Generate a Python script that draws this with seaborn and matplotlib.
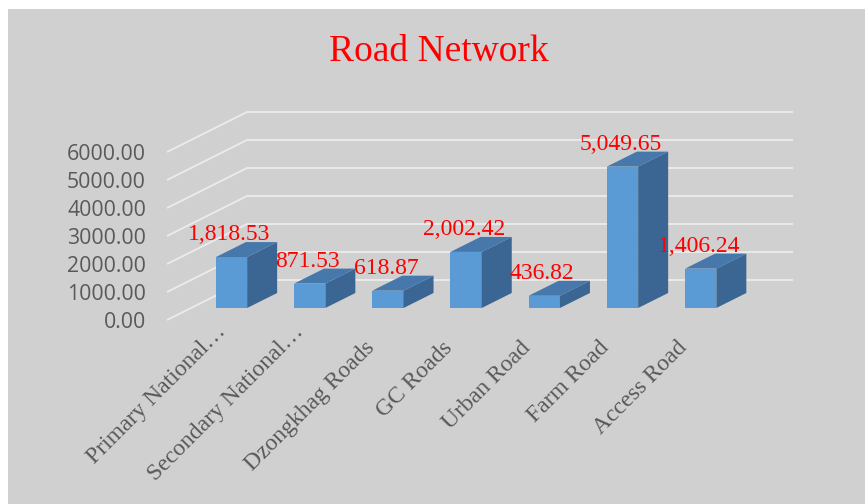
import matplotlib
matplotlib.use("Agg")
import matplotlib.pyplot as plt
from matplotlib.patches import Polygon, Rectangle
import seaborn as sns
import pandas as pd

categories = ['Primary National…', 'Secondary National…', 'Dzongkhag Roads', 'GC Roads',
              'Urban Road', 'Farm Road', 'Access Road']
lengths = [1818.53, 871.53, 618.87, 2002.42, 436.82, 5049.65, 1406.24]
y_ticks = [0, 1000, 2000, 3000, 4000, 5000, 6000]
title = 'Road Network'

df = pd.DataFrame({'road': categories, 'km': lengths})

W, H, DPI = 865, 504, 100
bg = '#d1d0d0'
front_c, side_c, top_c = '#5b9bd5', '#3b6592', '#4778ac'
grey = '#595959'

fig = plt.figure(figsize=(W / DPI, H / DPI), dpi=DPI, facecolor='white')
fig.patches.append(Rectangle((8 / W, 0), 1, 1 - 9 / H, transform=fig.transFigure,
                             facecolor=bg, edgecolor='none', zorder=-10))

# axes placed so one category = 78.2 px and 1000 units = 28 px
ppx, ppy = 78.2, 0.028
xlim, ylim = (-1.5, 7.5), (-1500, 7500)
left_px = 231.5 + xlim[0] * ppx
top_px = 308 - ylim[1] * ppy
ax_w = (xlim[1] - xlim[0]) * ppx
ax_h = (ylim[1] - ylim[0]) * ppy
ax = fig.add_axes([left_px / W, (H - top_px - ax_h) / H, ax_w / W, ax_h / H])
ax.set_facecolor('none')

def dx(px):
    return px / ppx

def dy(px):
    return px / ppy

# walls / grid: front plane, diagonal to back wall, back wall line
for v in y_ticks:
    xf, yf = dx(167 - 231.5), v - dy(12)
    xb, yb = xf + dx(80), yf + dy(40)
    ax.plot([xf, xb, dx(793 - 231.5)], [yf, yb, yb], color='#ececec', lw=1.3,
            zorder=1, clip_on=False, solid_capstyle='butt')
    ax.annotate(f'{v:.2f}', xy=(0, v), xytext=(-85.5, -14), textcoords='offset pixels',
                ha='right', va='center', fontsize=15.3, family='Open Sans', color=grey,
                annotation_clip=False)

sns.barplot(data=df, x='road', y='km', color=front_c, saturation=1, width=0.4,
            ax=ax, zorder=3)
ax.set_xlim(*xlim)
ax.set_ylim(*ylim)
ax.set_axis_off()

hw = 0.2
ddx, ddy = dx(30), dy(15)
for i, v in enumerate(lengths):
    x0, x1 = i - hw, i + hw
    side = Polygon([(x1, 0), (x1 + ddx, ddy), (x1 + ddx, v + ddy), (x1, v)],
                   closed=True, facecolor=side_c, edgecolor='none', zorder=3)
    top = Polygon([(x0, v), (x1, v), (x1 + ddx, v + ddy), (x0 + ddx, v + ddy)],
                  closed=True, facecolor=top_c, edgecolor='none', zorder=3)
    ax.add_patch(side)
    ax.add_patch(top)
    ax.annotate(f'{v:,.2f}', xy=(i, v), xytext=(-2, 17), textcoords='offset pixels',
                ha='center', va='baseline', fontsize=17, family='Liberation Serif',
                color='red', zorder=5, annotation_clip=False)

for i, name in enumerate(categories):
    off = (-16.5, -13) if name.endswith('…') else (-24, -29)
    ax.annotate(name, xy=(i, 0), xytext=off, textcoords='offset pixels',
                ha='right', va='top', rotation=45, rotation_mode='anchor',
                fontsize=17, family='Liberation Serif', color=grey,
                annotation_clip=False)

fig.text(439 / W, 1 - 52 / H, title, ha='center', va='center', fontsize=27,
         family='Liberation Serif', color='red')

fig.savefig('out.png', dpi=DPI, facecolor=fig.get_facecolor())
